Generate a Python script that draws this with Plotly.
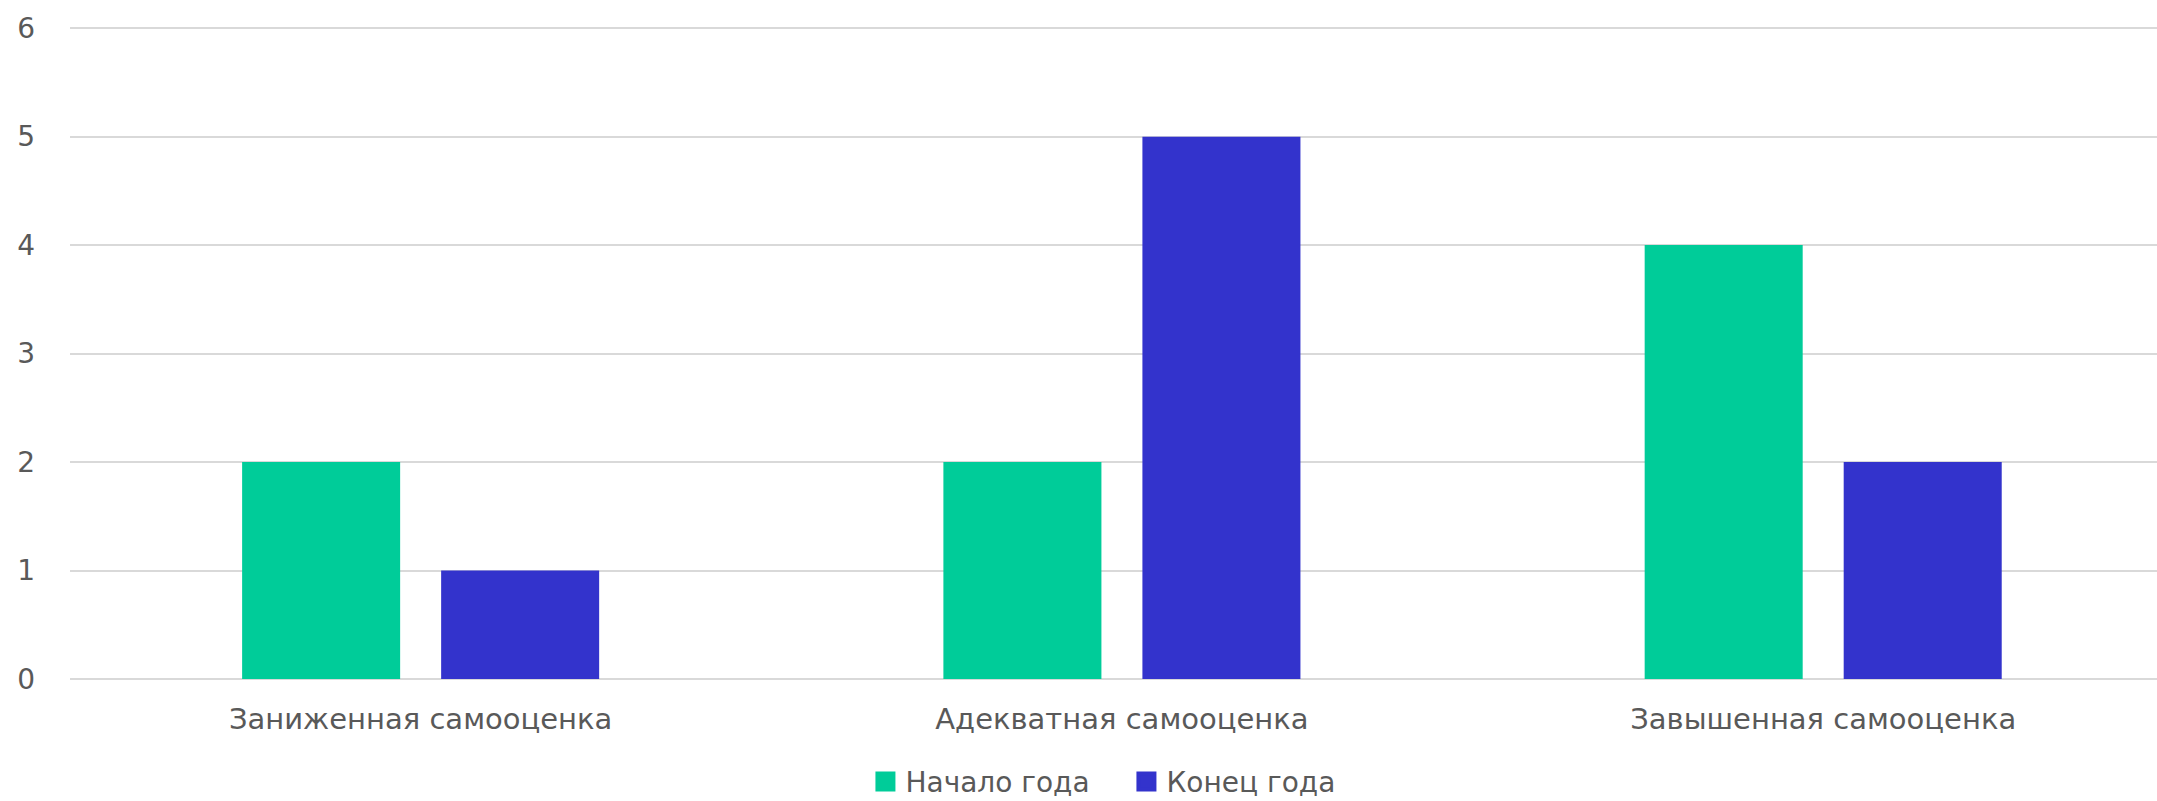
import plotly.graph_objects as go

categories = ["Заниженная самооценка", "Адекватная самооценка", "Завышенная самооценка"]
series_names = ["Начало года", "Конец года"]
start_values = [2, 2, 4]
end_values = [1, 5, 2]
y_ticks = [0, 1, 2, 3, 4, 5, 6]

colors = ["#00CC99", "#3333CC"]
text_color = "#595959"
font_family = "DejaVu Sans"

fig = go.Figure()
for name, vals, col in zip(series_names, [start_values, end_values], colors):
    fig.add_trace(go.Bar(x=categories, y=vals, name=name, showlegend=False,
                         marker=dict(color=col, line=dict(width=0))))
# legend entries with larger square swatches
for name, col in zip(series_names, colors):
    fig.add_trace(go.Scatter(x=[None], y=[None], mode="markers", name=name,
                             marker=dict(symbol="square", size=16, color=col,
                                         line=dict(color=col, width=4))))

fig.update_layout(
    width=2157, height=801,
    margin=dict(l=70, r=0, t=26, b=122, autoexpand=False),
    paper_bgcolor="white", plot_bgcolor="white",
    barmode="group", bargap=0.4324, bargroupgap=0.206,
    font=dict(family=font_family, size=28, color=text_color),
    showlegend=True,
    legend=dict(orientation="h", x=0.5062, xanchor="center", y=-0.1574, yanchor="middle",
                font=dict(size=28, color=text_color), itemwidth=30, traceorder="normal",
                itemsizing="trace", entrywidth=216, entrywidthmode="pixels"),
)
fig.update_xaxes(range=[-0.5, 2.476], showgrid=False, showline=False, ticks="", automargin=False,
                 tickfont=dict(size=29, color=text_color), ticklabelstandoff=20)
fig.update_yaxes(range=[0, 6.02], tickvals=y_ticks, showgrid=True, gridcolor="#d9d9d9", gridwidth=1.5,
                 zeroline=True, zerolinecolor="#d9d9d9", zerolinewidth=1.5, showline=False, ticks="",
                 automargin=False, tickfont=dict(size=28, color=text_color), ticklabelstandoff=34)

fig.write_html("out.html", config={"displayModeBar": False},
               post_script="document.body.style.margin='0';")
